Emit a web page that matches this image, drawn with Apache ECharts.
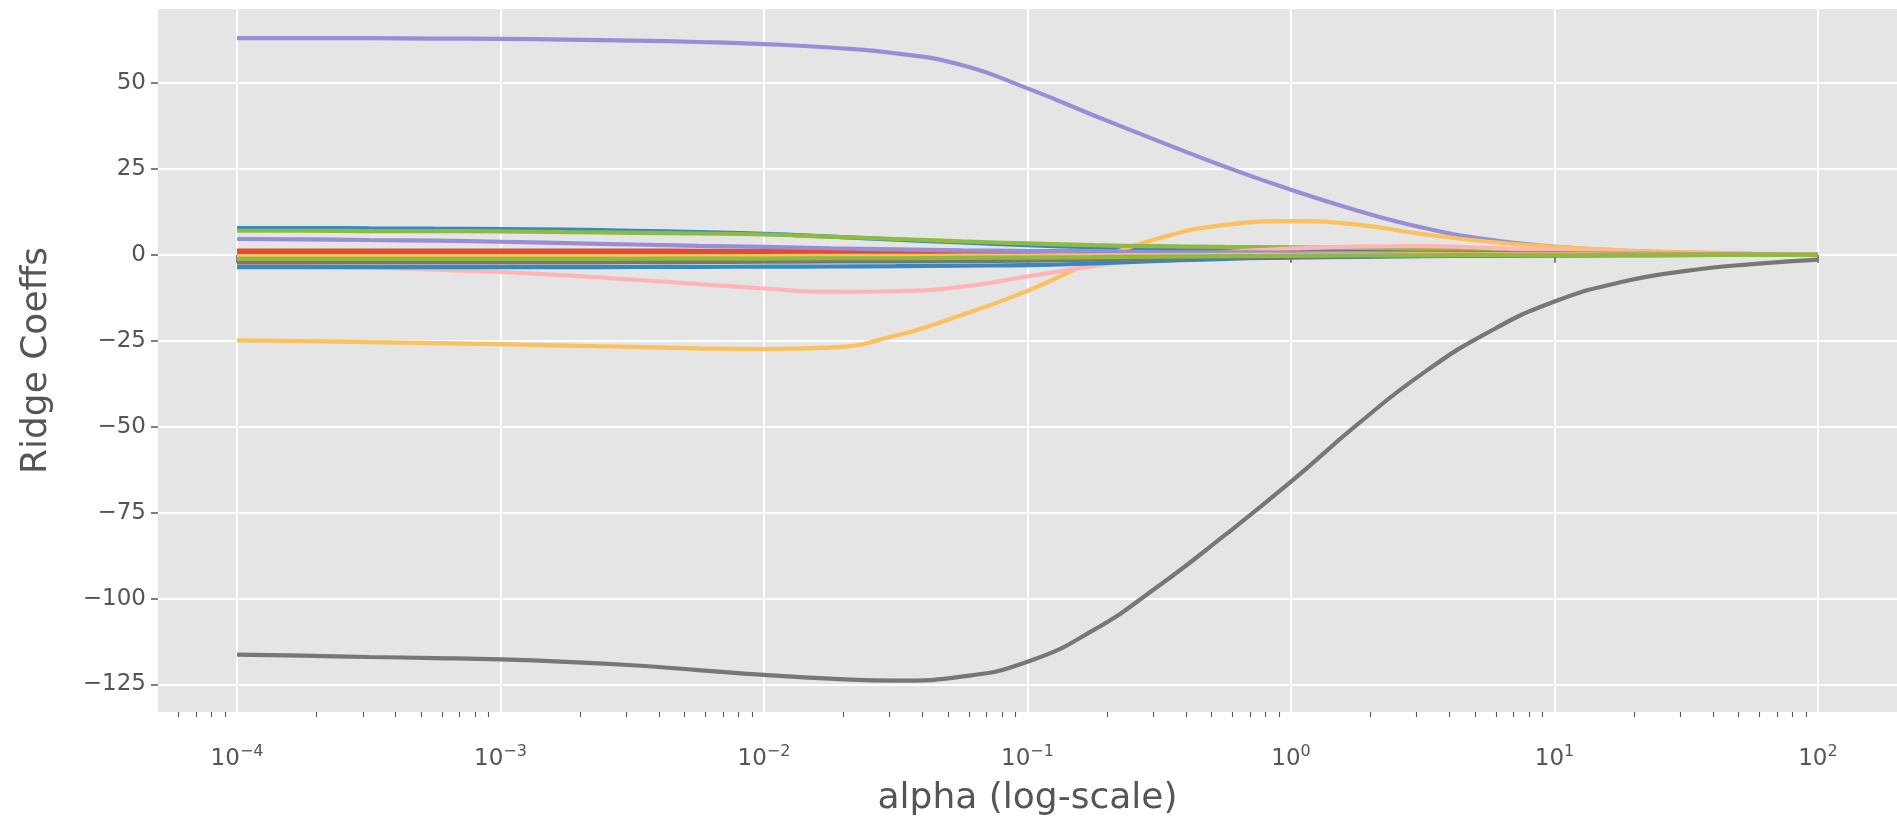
<!DOCTYPE html>
<html>
<head>
<meta charset="utf-8">
<script src="https://cdn.jsdelivr.net/npm/echarts@6/dist/echarts.min.js"></script>
<style>
html,body{margin:0;padding:0;background:#fff;}
#chart{width:1897px;height:822px;}
</style>
</head>
<body>
<div id="chart"></div>
<script>
// alpha grid (log-spaced sample points)
const alphas = [1e-4, 1.778e-4, 3.162e-4, 5.623e-4, 1e-3, 1.778e-3, 3.162e-3, 5.623e-3, 1e-2, 1.778e-2, 3.162e-2, 5.623e-2, 0.1, 0.1778, 0.3162, 0.5623, 1, 1.778, 3.162, 5.623, 10, 17.78, 31.62, 56.23, 100];

const coefRedA    = [1.2,1.2,1.2,1.2,1.2,1.2,1.2,1.15,1.1,1.1,1.05,1.0,1.0,0.95,0.95,0.9,0.9,0.85,0.8,0.7,0.55,0.4,0.25,0.15,0.08];
const coefBlueA   = [7.8,7.8,7.7,7.6,7.5,7.3,7.0,6.6,6.1,5.3,4.4,3.6,2.8,2.2,1.8,1.5,1.3,1.1,0.9,0.7,0.5,0.3,0.18,0.1,0.05];
const coefPurpleA = [63.0,63.0,63.0,62.9,62.8,62.6,62.3,61.9,61.3,60.3,58.6,55.2,48.4,40.6,33.0,25.6,18.9,12.9,7.9,4.4,2.4,1.25,0.62,0.3,0.15];
const coefGrayA   = [-116.3,-116.6,-117.0,-117.3,-117.7,-118.4,-119.4,-120.8,-122.2,-123.3,-123.9,-122.7,-118.4,-109.2,-96.2,-81.5,-66.0,-49.5,-34.5,-22.5,-13.6,-8.0,-4.7,-2.7,-1.4];
const coefYellowA = [-24.9,-25.1,-25.4,-25.7,-26.0,-26.4,-26.8,-27.2,-27.4,-27.0,-23.5,-17.5,-10.5,-2.0,4.8,8.7,9.8,8.8,6.0,3.8,2.3,1.3,0.7,0.35,0.15];
const coefGreenA  = [7.0,7.0,6.9,6.9,6.8,6.6,6.4,6.2,5.9,5.3,4.6,3.9,3.3,2.8,2.5,2.3,2.2,2.0,1.7,1.3,0.9,0.6,0.35,0.2,0.1];
const coefPinkA   = [-3.0,-3.3,-3.7,-4.3,-5.0,-6.0,-7.2,-8.5,-9.8,-10.8,-10.6,-9.3,-6.3,-3.3,-0.9,0.8,1.8,2.4,2.5,2.0,1.3,0.7,0.4,0.2,0.1];
const coefRedB    = [0.4,0.4,0.4,0.4,0.4,0.4,0.45,0.45,0.5,0.5,0.5,0.5,0.5,0.55,0.6,0.6,0.6,0.6,0.55,0.5,0.4,0.3,0.2,0.1,0.05];
const coefBlueB   = [-3.6,-3.6,-3.6,-3.6,-3.6,-3.6,-3.55,-3.5,-3.45,-3.4,-3.3,-3.15,-3.0,-2.5,-1.8,-1.2,-0.85,-0.6,-0.4,-0.3,-0.2,-0.12,-0.08,-0.05,-0.03];
const coefPurpleB = [4.6,4.5,4.3,4.1,3.8,3.4,3.0,2.6,2.3,1.9,1.6,1.3,1.1,0.95,0.8,0.7,0.6,0.5,0.4,0.3,0.25,0.15,0.1,0.05,0.03];
const coefGrayB   = [-2.2,-2.2,-2.2,-2.2,-2.2,-2.2,-2.15,-2.1,-2.0,-1.95,-1.9,-1.8,-1.7,-1.4,-1.1,-0.8,-0.6,-0.45,-0.3,-0.2,-0.15,-0.1,-0.05,-0.03,-0.02];
const coefYellowB = [-0.4,-0.4,-0.4,-0.4,-0.4,-0.4,-0.4,-0.4,-0.35,-0.3,-0.3,-0.25,-0.2,-0.15,-0.1,-0.05,0,0.05,0.1,0.1,0.1,0.08,0.05,0.03,0.02];
const coefGreenB  = [-1.2,-1.2,-1.2,-1.2,-1.2,-1.2,-1.15,-1.1,-1.1,-1.0,-1.0,-0.9,-0.8,-0.7,-0.55,-0.4,-0.3,-0.2,-0.15,-0.1,-0.08,-0.05,-0.03,-0.02,-0.01];

const seriesList = [coefRedA, coefBlueA, coefPurpleA, coefGrayA, coefYellowA, coefGreenA, coefPinkA,
                    coefRedB, coefBlueB, coefPurpleB, coefGrayB, coefYellowB, coefGreenB];
const palette = ['#E24A33', '#348ABD', '#988ED5', '#777777', '#FBC15E', '#8EBA42', '#FFB5B8'];

// axis ticks
const xTickValues = [1e-4, 1e-3, 1e-2, 1e-1, 1, 10, 100];
const xTickSup = ['\u22124', '\u22123', '\u22122', '\u22121', '0', '1', '2'];
const yTickValues = [-125, -100, -75, -50, -25, 0, 25, 50];

const xMin = Math.pow(10, -4.3), xMax = Math.pow(10, 2.3);
const minorTicks = [];
for (let e = -5; e <= 2; e++) {
  for (let k = 2; k <= 9; k++) {
    const v = k * Math.pow(10, e);
    if (v > xMin && v < xMax) minorTicks.push(v);
  }
}

const FONT = 'DejaVu Sans';
const TXT = '#555555';

const chart = echarts.init(document.getElementById('chart'), null, {renderer: 'canvas'});
const option = {
  animation: false,
  backgroundColor: '#ffffff',
  grid: {left: 158, top: 9, width: 1747, height: 707, show: true, backgroundColor: '#E5E5E5', borderWidth: 0, containLabel: false},
  xAxis: [{
    type: 'log', logBase: 10, min: xMin, max: xMax,
    name: 'alpha (log-scale)', nameLocation: 'middle', nameGap: 69,
    nameTextStyle: {fontFamily: FONT, fontSize: 36, color: TXT},
    axisLine: {show: false},
    axisTick: {show: true, customValues: xTickValues, length: 8, lineStyle: {color: TXT, width: 1.5}},
    minorTick: {show: false},
    splitLine: {show: true, lineStyle: {color: '#ffffff', width: 2}},
    axisLabel: {
      customValues: xTickValues, margin: 32, color: TXT, fontFamily: FONT,
      formatter: function (v) {
        const i = xTickValues.findIndex(t => Math.abs(Math.log10(t) - Math.log10(v)) < 1e-6);
        if (i < 0) return '';
        return '{b|10}{s|' + xTickSup[i] + '}';
      },
      rich: {
        b: {fontSize: 23, fontFamily: FONT, color: TXT, verticalAlign: 'bottom', lineHeight: 27},
        s: {fontSize: 16, fontFamily: FONT, color: TXT, verticalAlign: 'top', lineHeight: 17}
      }
    }
  }, {
    type: 'log', logBase: 10, min: xMin, max: xMax, position: 'bottom',
    axisLine: {show: false},
    axisTick: {show: true, customValues: minorTicks, length: 5, lineStyle: {color: TXT, width: 1.1}},
    axisLabel: {show: false},
    splitLine: {show: false}
  }],
  yAxis: {
    type: 'value', min: -133, max: 71.5,
    name: 'Ridge Coeffs', nameLocation: 'middle', nameGap: 103, nameRotate: 90,
    nameTextStyle: {fontFamily: FONT, fontSize: 36, color: TXT},
    axisLine: {show: false},
    axisTick: {show: true, customValues: yTickValues, length: 7, lineStyle: {color: TXT, width: 1.5}},
    splitLine: {show: true, lineStyle: {color: '#ffffff', width: 2}},
    axisLabel: {
      customValues: yTickValues, margin: 12, fontSize: 23, fontFamily: FONT, color: TXT,
      formatter: v => (v < 0 ? '\u2212' + Math.abs(v) : String(v))
    }
  },
  series: seriesList.map((vals, i) => ({
    type: 'line',
    xAxisIndex: 0,
    data: alphas.map((a, j) => [a, vals[j]]),
    showSymbol: false,
    symbol: 'none',
    smooth: true,
    lineStyle: {color: palette[i % palette.length], width: 4.2},
    itemStyle: {color: palette[i % palette.length]},
    z: 2 + i * 0.01
  }))
};
chart.setOption(option);
</script>
</body>
</html>
